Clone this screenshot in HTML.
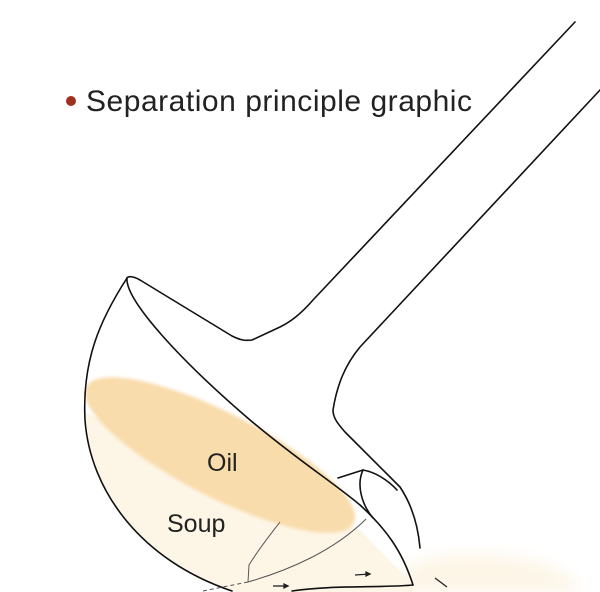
<!DOCTYPE html>
<html><head><style>
html,body{margin:0;padding:0;background:#fff;width:600px;height:592px;overflow:hidden}
svg{display:block;position:absolute;left:0;top:0;overflow:hidden}
</style></head><body>
<svg width="600" height="592" viewBox="0 0 600 592" xmlns="http://www.w3.org/2000/svg">
<defs>
<clipPath id="bowl">
<path d="M127,278 C100,320 82,360 85,420 C90,490 140,560 233,592 L413,592 L413,585 C405,560 390,535 360,505 C320,470 200,380 127,278 Z"/>
</clipPath>
<clipPath id="frame"><rect x="0" y="0" width="600" height="592"/></clipPath>
<filter id="blur" x="-20%" y="-20%" width="140%" height="140%"><feGaussianBlur stdDeviation="1.5"/></filter>
<filter id="blur2" x="-30%" y="-30%" width="160%" height="160%"><feGaussianBlur stdDeviation="8"/></filter>
</defs>
<g clip-path="url(#bowl)">
<path d="M80,410 L360,530 L420,592 L80,592 Z" fill="#fdf5e6"/>
</g>
<ellipse cx="220" cy="455" rx="150" ry="42" transform="rotate(27 220 455)" fill="#f9dcac" filter="url(#blur)"/>
<g clip-path="url(#frame)">
<path d="M390,592 C400,560 440,552 490,555 C540,558 575,575 580,592 Z" fill="#fdf5e6" filter="url(#blur2)"/>
</g>
<g fill="none" stroke="#111" stroke-width="1.6" stroke-linecap="round" stroke-linejoin="round">
<path d="M575,22 L313,300 C300,315 290,322 280,327 L252,340 C245,341 240,340 232,336 L140,280 C133,276 128,276 127,278"/>
<path d="M600,90 L360,347 C345,365 337,385 333,410 C333,418 338,424 345,432 L400,487 C412,505 418,525 420,548"/>
<path d="M127,278 C100,320 82,360 85,420 C90,490 140,560 232,591"/>
<path d="M127,278 C125,300 180,360 250,420 C300,462 330,480 360,505 C385,528 402,550 413,585"/>
<path d="M413,585 C380,588 330,585 292,591"/>
<path d="M338,478 L363,470 C375,472 388,480 397,490"/>
<path d="M363,470 C356,485 362,505 373,518"/>
</g>
<g fill="none" stroke="#555" stroke-width="1">
<path d="M280,522 C270,535 258,550 249,565 L248,582"/>
<path d="M366,519 C335,550 290,570 248,582"/>
<path d="M248,582 L203,591" stroke-dasharray="4,3"/>
</g>
<g stroke="#222" stroke-width="1.3" fill="#222">
<path d="M273,586 L288,586"/><path d="M288,586 l-4,-2 v4 z"/>
<path d="M355,575 L370,574"/><path d="M370,574 l-4,-2 v4 z"/>
<path d="M435,578 L447,587"/>
</g>
<circle cx="71" cy="101" r="5" fill="#a0301e"/>
<text x="86" y="111" font-family="Liberation Sans, sans-serif" font-size="30" fill="#222" textLength="386">Separation principle graphic</text>
<text x="207" y="471" font-family="Liberation Sans, sans-serif" font-size="25" fill="#222">Oil</text>
<text x="167" y="532" font-family="Liberation Sans, sans-serif" font-size="25" fill="#222">Soup</text>
</svg>
</body></html>
